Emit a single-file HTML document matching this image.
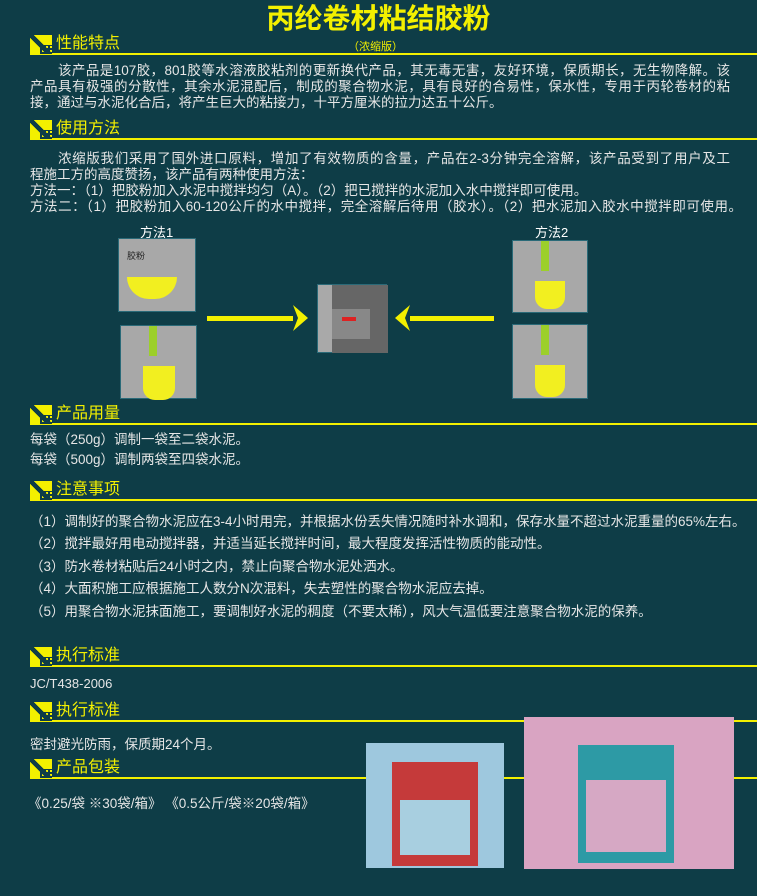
<!DOCTYPE html>
<html><head><meta charset="utf-8"><style>
*{margin:0;padding:0;box-sizing:border-box}
body{width:757px;height:896px;background:#0e3d47;position:relative;overflow:hidden;font-family:"Liberation Sans","Noto Sans CJK SC",sans-serif;color:#e6e6e6}
.a{position:absolute;white-space:nowrap}
.j{position:absolute;white-space:nowrap;text-align:justify;text-align-last:justify;font-size:13.5px;line-height:16px}
.h{position:absolute;left:30px;width:727px;height:22px;border-bottom:2px solid #f3f000}
.h .ic{position:absolute;left:0;top:2px;width:22px;height:19px;background:#f3f000;
background-image:linear-gradient(45deg,transparent 40%,#0e3d47 40%,#0e3d47 55%,transparent 55%);}
.h .ic:after{content:"";position:absolute;right:0;bottom:0;width:12px;height:9px;background:repeating-linear-gradient(90deg,#0e3d47 0 2px,transparent 2px 4px),repeating-linear-gradient(0deg,#0e3d47 0 2px,transparent 2px 4px)}
.h .t{position:absolute;left:26px;top:0;font-size:16px;color:#f3f000;line-height:22px}
.box{position:absolute;background:#a8a8a8;border:1px solid #2a6a78}
.bk{position:absolute;background:#f2ef20;border-radius:0 0 12px 12px}
</style></head><body>
<div class="a" style="left:0;width:757px;top:2px;text-align:center;font-size:28px;color:#f3f000;line-height:34px;font-weight:bold">丙纶卷材粘结胶粉</div>
<div class="a" style="left:348px;top:38px;font-size:11px;color:#f3f000">（浓缩版）</div>

<div class="h" style="top:33px"><div class="ic"></div><div class="t">性能特点</div></div>
<div class="j" style="left:58px;top:63px;width:672px">该产品是107胶，801胶等水溶液胶粘剂的更新换代产品，其无毒无害，友好环境，保质期长，无生物降解。该</div>
<div class="j" style="left:30px;top:79px;width:700px">产品具有极强的分散性，其余水泥混配后，制成的聚合物水泥，具有良好的合易性，保水性，专用于丙轮卷材的粘</div>
<div class="a" style="left:30px;top:95px;font-size:13.5px;line-height:16px">接，通过与水泥化合后，将产生巨大的粘接力，十平方厘米的拉力达五十公斤。</div>

<div class="h" style="top:118px"><div class="ic"></div><div class="t">使用方法</div></div>
<div class="j" style="left:58px;top:151px;width:672px">浓缩版我们采用了国外进口原料，增加了有效物质的含量，产品在2-3分钟完全溶解，该产品受到了用户及工</div>
<div class="a" style="left:30px;top:167px;font-size:13.5px;line-height:16px">程施工方的高度赞扬，该产品有两种使用方法：</div>
<div class="a" style="left:30px;top:183px;font-size:13.5px;line-height:16px">方法一：（1）把胶粉加入水泥中搅拌均匀（A）。（2）把已搅拌的水泥加入水中搅拌即可使用。</div>
<div class="j" style="left:30px;top:199px;width:712px">方法二：（1）把胶粉加入60-120公斤的水中搅拌，完全溶解后待用（胶水）。（2）把水泥加入胶水中搅拌即可使用。</div>

<div class="a" style="left:140px;top:222px;font-size:13px;color:#fff">方法1</div>
<div class="a" style="left:535px;top:222px;font-size:13px;color:#fff">方法2</div>
<div class="box" style="left:118px;top:238px;width:78px;height:74px"><div class="bk" style="left:8px;top:38px;width:50px;height:22px;border-radius:0 0 25px 25px"></div><div class="a" style="left:8px;top:10px;font-size:9px;color:#222">胶粉</div></div>
<div class="box" style="left:120px;top:325px;width:77px;height:74px"><div class="bk" style="left:22px;top:40px;width:32px;height:34px"></div><div style="position:absolute;left:28px;top:0;width:8px;height:30px;background:#9ccf2a"></div></div>
<div class="box" style="left:512px;top:240px;width:76px;height:73px"><div class="bk" style="left:22px;top:40px;width:30px;height:28px"></div><div style="position:absolute;left:28px;top:0;width:8px;height:30px;background:#9ccf2a"></div></div>
<div class="box" style="left:512px;top:324px;width:76px;height:75px"><div class="bk" style="left:22px;top:40px;width:30px;height:32px"></div><div style="position:absolute;left:28px;top:0;width:8px;height:30px;background:#9ccf2a"></div></div>
<div class="box" style="left:317px;top:284px;width:70px;height:69px;background:#a9a9a9"><div style="position:absolute;left:14px;top:0;width:56px;height:68px;background:#666"></div><div style="position:absolute;left:14px;top:24px;width:38px;height:30px;background:#888"></div><div style="position:absolute;left:24px;top:32px;width:14px;height:4px;background:#d22"></div></div>
<svg class="a" style="left:0;top:0" width="757" height="420"><g fill="#f3f000"><rect x="207" y="316" width="86" height="5"/><polygon points="308,318 293,305 298,318 293,331"/><rect x="410" y="316" width="84" height="5"/><polygon points="395,318 410,305 405,318 410,331"/></g></svg>

<div class="h" style="top:403px"><div class="ic"></div><div class="t">产品用量</div></div>
<div class="a" style="left:30px;top:432px;font-size:13.5px;line-height:16px">每袋（250g）调制一袋至二袋水泥。</div>
<div class="a" style="left:30px;top:452px;font-size:13.5px;line-height:16px">每袋（500g）调制两袋至四袋水泥。</div>

<div class="h" style="top:479px"><div class="ic"></div><div class="t">注意事项</div></div>
<div class="j" style="left:30px;top:514px;width:710px">（1）调制好的聚合物水泥应在3-4小时用完，并根据水份丢失情况随时补水调和，保存水量不超过水泥重量的65%左右。</div>
<div class="a" style="left:30px;top:536px;font-size:13.5px;line-height:16px">（2）搅拌最好用电动搅拌器，并适当延长搅拌时间，最大程度发挥活性物质的能动性。</div>
<div class="a" style="left:30px;top:559px;font-size:13.5px;line-height:16px">（3）防水卷材粘贴后24小时之内，禁止向聚合物水泥处洒水。</div>
<div class="a" style="left:30px;top:581px;font-size:13.5px;line-height:16px">（4）大面积施工应根据施工人数分N次混料，失去塑性的聚合物水泥应去掉。</div>
<div class="a" style="left:30px;top:604px;font-size:13.5px;line-height:16px">（5）用聚合物水泥抹面施工，要调制好水泥的稠度（不要太稀），风大气温低要注意聚合物水泥的保养。</div>

<div class="h" style="top:645px"><div class="ic"></div><div class="t">执行标准</div></div>
<div class="a" style="left:30px;top:676px;font-size:13px">JC/T438-2006</div>
<div class="h" style="top:700px"><div class="ic"></div><div class="t">执行标准</div></div>
<div class="a" style="left:30px;top:733px;font-size:13.5px">密封避光防雨，保质期24个月。</div>
<div class="h" style="top:757px"><div class="ic"></div><div class="t">产品包装</div></div>
<div class="a" style="left:28px;top:792px;font-size:13.5px">《0.25/袋 ※30袋/箱》 《0.5公斤/袋※20袋/箱》</div>

<div style="position:absolute;left:366px;top:743px;width:138px;height:125px;background:#9ec8de"></div>
<div style="position:absolute;left:392px;top:762px;width:86px;height:104px;background:#c53a3a"></div>
<div style="position:absolute;left:400px;top:800px;width:70px;height:55px;background:#a8cfe0"></div>
<div style="position:absolute;left:524px;top:717px;width:210px;height:152px;background:#d9a4c2"></div>
<div style="position:absolute;left:578px;top:745px;width:96px;height:118px;background:#2d9aa5"></div>
<div style="position:absolute;left:586px;top:780px;width:80px;height:72px;background:#d6a8c4"></div>
</body></html>
